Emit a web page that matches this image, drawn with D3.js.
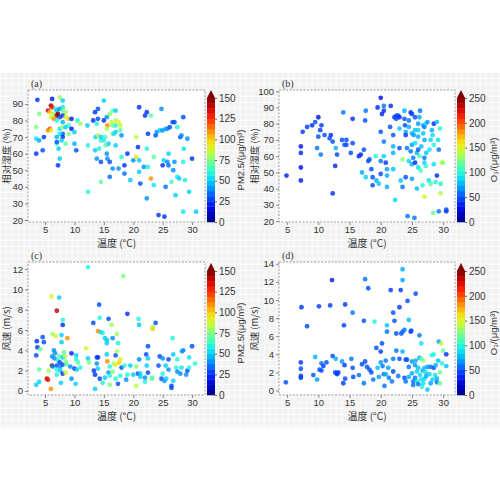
<!DOCTYPE html>
<html>
<head>
<meta charset="utf-8">
<script src="https://cdn.jsdelivr.net/npm/d3@7"></script>
<style>
  body { margin: 0; background: #fff; }
  svg text { font-family: "Liberation Sans", Arial, sans-serif; fill: #333; }
  .zh { font-family: "Noto Sans CJK SC", sans-serif; }
</style>
</head>
<body>
<div id="chart"></div>
<script>
// [temperature, y value, colour value]
var panelA = [
  [3.7,92.5,25],[6.2,93,20],[7.5,94,80],[8,92,50],[5.5,86,140],[6,89,145],[6.2,88,130],[5.8,85,100],[6.5,84,80],
  [6.8,87,60],[7,86,50],[7.5,87,40],[8,88,55],[8,86,70],[8.5,85,80],[7,83,140],[7.2,84,150],[6,82,90],[6.5,81,110],
  [7.5,82,30],[8,83,25],[8.5,82,90],[9,81,100],[9.5,81,20],[7,80,60],[8,79,45],[4,84,75],[3.5,76,75],[5.5,74,110],
  [5.8,75,120],[6,74,90],[7.5,75,55],[8,76,80],[8.5,76,50],[9,77,60],[9.5,75,20],[10,73,50],[11,78,80],[10.5,80,60],
  [9,72,75],[8,72,30],[7.5,72,55],[7,70,45],[8,70,25],[7.8,68,50],[7,66,70],[8.5,66,70],[7,67,30],[10,66,45],
  [3.5,69,55],[4,68,45],[4.8,70,25],[3.5,60,25],[4.6,62,30],[7.3,63,50],[7.5,57,50],[7.2,53,25],[10.3,62,30],
  [12.2,77,50],[12.3,65,60],[12.3,37,60],[13.2,80,25],[13.5,85,25],[14,87,30],[14,81,30],[13.8,78,60],[13.6,70,50],
  [14,71,80],[13.5,62,50],[13.8,57,40],[14.5,55,30],[14.2,63,60],[14.5,68,60],[15,92,50],[14.5,70,50],[15,80,25],
  [15.5,82,40],[15.6,77,110],[15.5,75,80],[15.2,70,65],[15,68,60],[15.3,65,70],[15.5,60,40],[15.6,57,40],[16,55,30],
  [15.8,66,50],[16.5,86,70],[17,86,50],[16,84,75],[16.3,79,85],[17,80,85],[16.5,77,75],[17,77,60],[17.5,79,90],
  [17.8,77,85],[16.5,72,75],[17,73,50],[17.8,74,70],[18,71,40],[16.7,72,55],[17,65,50],[16.5,51,40],[16,46,35],
  [14.5,43,70],[17.5,51,40],[18,58,60],[18.5,53,25],[18.5,48,35],[19,60,25],[19.5,44,50],[20,56,40],[20.5,58,95],
  [20.5,70,85],[20.8,64,25],[21,88,25],[21,56,50],[21,49,50],[21.2,42,30],[21.8,52,40],[22,83,25],[22.3,85,25],
  [22.5,72,25],[22.3,63,60],[22.5,52,60],[22.3,33,40],[23,83,70],[23,45,110],[23.5,41,55],[23.5,58,70],[23.8,71,30],
  [24,73,40],[24.5,74,50],[24.8,87,40],[25,74,40],[25,53,25],[25.5,75,45],[25.8,75,40],[25.2,56,50],[25.5,40,35],
  [25.8,55,40],[26,53,35],[26.2,76,30],[26,60,50],[26.5,43,65],[26.7,79,30],[27,79,30],[27,55,40],[26.8,50,40],
  [27.2,35,50],[27.5,76,60],[27.5,46,55],[27.8,45,50],[28,70,30],[28.2,71,40],[28.5,82,30],[28.6,63,55],[28.5,55,60],
  [28.8,44,60],[29.2,69,40],[29.5,37,50],[30,57,25],[24.3,23,25],[25.3,22,25],[28.5,25,55],[30.7,25,50]
];
var panelB = [
  [4.9,48,35],[7.2,66,35],[7.2,62,40],[7.2,53,30],[7.2,45,35],[7.5,75,45],[8.2,78,45],[9,79,40],[9.5,81,50],[10,84,30],
  [10,72,50],[9.8,65,60],[10.3,76,45],[10.5,79,45],[10.4,61,60],[11,73,50],[11.8,71,50],[12,73,40],[12.3,69,50],
  [12.7,54,40],[12.3,37,40],[12.8,65,75],[13,61,50],[13.8,70,50],[14,87,60],[14.2,67,50],[14.5,70,50],[14.5,67,50],
  [15.5,83,40],[15.5,68,50],[15.2,62,50],[16.5,60,40],[16.8,61,40],[17.3,64,50],[17.5,82,50],[17.6,88,60],[17,50,75],
  [17.6,47,85],[18,57,50],[18.2,58,50],[18.5,52,50],[18.7,47,50],[18.7,42,50],[19.2,60,100],[19.3,45,75],[19.7,43,80],
  [19.5,90,40],[20,96,30],[20,75,50],[20,57,60],[20,49,50],[20.2,86,40],[20.5,88,40],[20.5,91,60],[20.5,60,85],
  [20.5,69,60],[20.8,56,40],[21,52,70],[21,41,75],[21,48,75],[21.5,78,50],[21.6,91,40],[22,73,50],[22,66,75],
  [22,52,80],[22,62,75],[22.2,84,40],[22.5,85,50],[22.5,83,50],[22.8,85,50],[22.3,33,85],[23,84,40],[23,77,80],
  [23,65,50],[23.2,45,80],[23.5,58,130],[23.5,41,60],[23.8,88,75],[23.8,83,50],[23.9,79,50],[24,75,75],[24,73,40],
  [24.2,65,60],[24,47,50],[24.3,23,60],[24.5,82,60],[24.5,78,75],[24.5,57,85],[24.8,63,60],[24.8,87,40],[25,86,45],
  [25,74,75],[25,67,70],[25,55,75],[25,46,70],[25.2,59,60],[25.3,73,70],[25.5,76,80],[25.5,68,90],[25.5,84,50],
  [25.5,56,40],[25.8,62,75],[25.8,40,80],[25.4,22,60],[26,80,70],[26,76,85],[26,72,75],[26,64,50],[26,53,90],
  [26.2,84,75],[26.3,88,60],[26.2,60,110],[26.4,51,110],[26.5,66,80],[26.7,42,100],[26.8,79,75],[26.8,74,80],
  [27,78,60],[27,70,75],[27,56,85],[27,59,60],[27,35,150],[27.2,80,85],[27.2,54,100],[27.3,62,80],[27.5,81,70],
  [27.7,45,90],[27.8,64,90],[28,43,110],[28,70,85],[28.2,76,75],[28.5,80,40],[28.3,73,90],[28.5,67,100],[28.5,55,90],
  [28.4,25,120],[28.8,44,100],[29,81,80],[29,48,40],[29.2,70,90],[29.3,64,60],[29.5,77,100],[29.6,43,100],
  [29.6,37,140],[29.8,56,140],[30,56,130],[29.3,26,60],[30.5,26,40],[30.5,27,50]
];
var panelC = [
  [3.5,0.6,50],[3.5,3.5,30],[3.6,4.9,25],[3.7,4.3,25],[4,0.9,50],[4,2.1,70],[4.2,4.1,70],[4.6,5.3,30],[4.8,4.8,30],
  [5.3,1.2,140],[5.5,1.1,130],[5.6,2,80],[6,0.2,110],[6.1,9.3,90],[6.2,3.4,40],[6.2,2.5,150],[6.3,2.4,40],[6.3,5.6,80],
  [6.5,4,40],[6.6,3.2,40],[6.7,3.7,40],[6.8,5.4,90],[7,7.9,140],[7,2.5,30],[7,2.1,60],[7,1.6,60],[7.2,3,60],[7.4,9.2,50],
  [7.4,3.4,70],[7.5,2.8,30],[7.6,2.4,40],[7.6,2,50],[7.7,0.8,50],[7.8,5.5,50],[7.8,4.8,50],[8,6.5,25],[8,7,60],[8,3.3,50],
  [8,2.6,30],[8,1.7,25],[8.2,3.8,70],[8.4,3.4,80],[8.5,2.9,75],[8.5,1.8,90],[8.7,2.6,70],[8.8,5.2,110],[9.3,2.4,40],
  [9.5,3.7,20],[9.5,1.2,40],[10,2.2,25],[10.2,0.7,50],[10.3,3.1,60],[10.3,3.5,50],[10.4,2.1,50],[10.6,2.8,70],[11,2.3,60],
  [12,4.2,90],[12.3,12.2,60],[12.3,3.2,50],[12.5,2.8,75],[13.2,6.7,30],[13.3,2,25],[13.5,1.6,25],[13.8,3.3,30],
  [13.8,2.7,40],[13.5,0.2,50],[14,3.3,25],[14,2.2,50],[14,5.9,110],[14.2,8.5,30],[14.3,7.2,60],[14.5,5.8,50],[14.8,5.7,60],
  [14.3,1.2,30],[14.8,0.8,60],[15.2,5.2,50],[15.5,4.7,50],[15.5,3.6,50],[15.5,5,50],[15.6,2.9,110],[15.8,7.1,30],
  [15.8,1.8,40],[15.2,1.3,50],[16,2.4,60],[16,1.5,60],[16,0.6,75],[16.3,6.5,80],[16.5,5.2,40],[16.5,1.9,75],[16.7,2.7,80],
  [17,3.5,30],[17,2.6,90],[17.2,3.9,80],[17,1.2,60],[17.2,5.6,80],[17.4,0.7,30],[17.4,4.7,60],[17.6,2.8,100],[17.8,3.1,90],
  [17.8,1.5,60],[18,2.3,30],[18.3,11.3,75],[18.5,2.5,60],[18.8,1.1,40],[19,7.6,25],[19,1.6,60],[19.5,2.5,50],[20,1.6,50],
  [20.5,2.4,75],[20.5,0.5,85],[20.8,1.7,30],[20.9,7.1,60],[21,6.5,50],[21,3.1,40],[21.2,1.4,50],[21.2,1.7,50],[22,1.3,40],
  [22,0.9,60],[22.2,3.6,30],[22.3,2.5,50],[22.5,3.2,50],[22.5,1.8,30],[22.5,4.4,30],[23.2,1.3,70],[23.2,1.2,70],
  [23.3,6.3,80],[23.3,6.1,100],[23.8,6.7,30],[24.3,2.5,30],[24.5,3.4,30],[24.8,1.2,30],[25,3.2,40],[25,1.7,60],[25.3,1,40],
  [25.6,1.2,50],[25.5,2.5,50],[26,2.1,40],[26,3.1,30],[26.5,0.5,30],[26.5,0.3,30],[26.7,5.2,60],[26.8,1,50],[26.8,3.6,50],
  [27.3,2.3,60],[27.5,1.9,40],[27.5,3.1,60],[28,1.7,40],[28.2,2.3,55],[28.3,3.9,40],[28.5,4,40],[29,1.6,40],[29.2,2,30],
  [29.5,2.3,60],[29.5,3.3,55],[30,4.4,30],[30.5,2.7,60]
];
var panelD = [
  [4.8,0.9,50],[7.2,3.1,45],[7.2,2.4,50],[7.2,1.6,45],[7.2,1.4,45],[7.3,9.2,45],[8.2,7.1,50],[9.2,1.7,50],[9.5,3.7,75],
  [9.8,1.2,70],[10.1,9.3,45],[10.2,2.3,50],[10.5,2.2,50],[10.5,3,60],[10.8,2.7,45],[11.3,3.1,50],[11.9,9.4,45],
  [12.2,12.2,35],[12.3,3.8,50],[12.7,2,50],[12.8,3.5,75],[13,1.8,50],[13.2,2,50],[13,1.9,45],[13.8,3.2,70],[14,0.8,45],
  [14.1,7.2,45],[14.3,9.5,45],[14.3,1.3,50],[14.2,2.8,45],[15.3,3.5,60],[15.5,8.6,60],[15.5,2.5,50],[15.6,1.5,50],
  [16.5,1.7,60],[17,2.9,50],[17.3,7.7,50],[17.3,0.8,60],[17.5,12.3,60],[17.5,3.2,50],[17.8,2.6,50],[18,11.3,50],
  [18.2,2.3,50],[18.5,2,50],[18.8,1.2,60],[19,7.6,100],[19.3,4.7,50],[19.5,2.5,80],[19.7,1.5,70],[20,4.3,45],[20,3.1,70],
  [20.2,5.2,50],[20.3,2.7,60],[20.5,1.8,60],[20.6,0.5,60],[20.8,3.3,60],[20.8,1.8,75],[21,7.2,80],[21,6.5,60],[21.2,2.5,70],
  [21.3,1.4,60],[21.6,11.1,45],[21.8,1,60],[22,3.5,60],[22,2.1,50],[22,8.6,50],[22.2,7.7,50],[22.5,6.3,50],[22.5,4.4,60],
  [22.8,1.6,60],[23,9.2,45],[23,3.5,50],[23.2,11.1,45],[23.3,6.3,50],[23.5,13.4,75],[23.5,12.2,70],[23.5,6.5,60],
  [23.5,4.3,75],[23.8,6.7,60],[23.8,1.4,50],[24,3.4,50],[24,1,60],[24.2,3.4,50],[24.3,9.9,50],[24.5,7.8,80],[24.5,2.6,60],
  [24.5,1.5,75],[24.8,6.5,45],[24.9,6.6,50],[25,3.2,70],[25,1.9,75],[25.2,0.6,60],[25.2,1,60],[25.5,2.8,70],[25.5,1.4,60],
  [25.6,3.3,75],[25.6,10.7,50],[25.8,1,90],[25.8,2.1,85],[26,0.7,60],[26.2,6.1,60],[26,2.5,80],[26.2,3.6,75],[26.3,1.7,85],
  [26.5,5.2,90],[26.5,3.5,110],[26.5,1.2,90],[26.6,0.4,100],[26.7,2.2,75],[26.8,0.8,90],[26.8,3.3,130],[27,2.5,80],
  [27,1.3,85],[27.2,2,90],[27.3,1.6,75],[27.5,0.1,80],[27.5,2.6,70],[27.8,1.8,85],[28,0.8,70],[28,2.6,60],[28.2,3.9,100],
  [28.3,1.2,85],[28.5,4,100],[28.5,2.5,50],[28.7,1.7,90],[28.8,2.8,75],[29,1.3,75],[29,0.9,60],[29.2,3.3,80],[29.3,5.4,70],
  [29.5,2,120],[29.5,0.8,120],[29.7,5.2,140],[29.8,3,100],[30,4.4,120],[30.5,4,40],[30.5,2.7,80]
];

var xTicks = [5, 10, 15, 20, 25, 30];
var rhTicks = [20, 30, 40, 50, 60, 70, 80, 90];
var rhTicksB = [20, 30, 40, 50, 60, 70, 80, 90, 100];
var wsTicksC = [0, 2, 4, 6, 8, 10, 12];
var wsTicksD = [0, 2, 4, 6, 8, 10, 12, 14];
var pmTicks = [0, 25, 50, 75, 100, 125, 150];
var o3Ticks = [0, 50, 100, 150, 200, 250];
var jetColors = ["#00007f", "#0000ff", "#007fff", "#00ffff", "#7fff7f", "#ffff00", "#ff7f00", "#ff0000", "#7f0000"];

var svg = d3.select("#chart").append("svg").attr("width", 500).attr("height", 500);

// light grid backdrop
var defs = svg.append("defs");
var pat = defs.append("pattern").attr("id", "bg").attr("width", 6).attr("height", 6).attr("patternUnits", "userSpaceOnUse");
pat.append("rect").attr("width", 6).attr("height", 6).attr("fill", "#f3f3f3");
pat.append("path").attr("d", "M0,0.5H6M0.5,0V6").attr("stroke", "#fafafa").attr("stroke-width", 1);
svg.append("rect").attr("x", 0).attr("y", 72).attr("width", 500).attr("height", 356).attr("fill", "url(#bg)");

var jet = d3.interpolateRgbBasis(jetColors);

var panels = [
  {tag: "(a)", data: panelA, x0: 28, x1: 205, y0: 90, y1: 222, xd: [2.1, 32.2], yd: [18.8, 98.4], yt: rhTicks,
   ylab: "相对湿度 (%)", cmax: 150, ct: pmTicks, cb: [207, 98, 222], clab: "PM2.5/(μg/m³)", clx: 241, ylx: 6.5},
  {tag: "(b)", data: panelB, x0: 279, x1: 455, y0: 90, y1: 222, xd: [3.7, 31.9], yd: [19.4, 100.8], yt: rhTicksB,
   ylab: "相对湿度 (%)", cmax: 250, ct: o3Ticks, cb: [457, 98, 222], clab: "O₃/(μg/m³)", clx: 494, ylx: 255},
  {tag: "(c)", data: panelC, x0: 28, x1: 205, y0: 262, y1: 395, xd: [2.1, 32.2], yd: [-0.4, 12.7], yt: wsTicksC,
   ylab: "风速 (m/s)", cmax: 150, ct: pmTicks, cb: [207, 271, 395], clab: "PM2.5/(μg/m³)", clx: 241, ylx: 6.5},
  {tag: "(d)", data: panelD, x0: 279, x1: 455, y0: 262, y1: 395, xd: [3.7, 31.9], yd: [-0.5, 14.2], yt: wsTicksD,
   ylab: "风速 (m/s)", cmax: 250, ct: o3Ticks, cb: [457, 271, 395], clab: "O₃/(μg/m³)", clx: 494, ylx: 255}
];

panels.forEach(function(p) {
  var x = d3.scaleLinear().domain(p.xd).range([p.x0, p.x1]);
  var y = d3.scaleLinear().domain(p.yd).range([p.y1, p.y0]);
  var c = d3.scaleSequential(jet).domain([0, p.cmax]);
  var g = svg.append("g");

  g.append("rect").attr("x", p.x0).attr("y", p.y0).attr("width", p.x1 - p.x0).attr("height", p.y1 - p.y0)
    .attr("fill", "#fff").attr("stroke", "#9a9a9a").attr("stroke-width", 1).attr("stroke-dasharray", "2,1.5");

  var xa = g.append("g").attr("transform", "translate(0," + p.y1 + ")")
    .call(d3.axisBottom(x).tickValues(xTicks).tickSize(3).tickPadding(1));
  var ya = g.append("g").attr("transform", "translate(" + p.x0 + ",0)")
    .call(d3.axisLeft(y).tickValues(p.yt).tickSize(3).tickPadding(2));
  [xa, ya].forEach(function(a) {
    a.select(".domain").remove();
    a.selectAll("line").attr("stroke", "#888");
    a.selectAll("text").style("font-size", "9.5px").attr("fill", "#333");
  });

  g.append("g").selectAll("circle").data(p.data).enter().append("circle")
    .attr("cx", function(d) { return x(d[0]); })
    .attr("cy", function(d) { return y(d[1]); })
    .attr("r", 2.4)
    .attr("fill", function(d) { return c(d[2]); })
    .attr("opacity", 0.82);

  g.append("text").attr("x", p.x0 + 3).attr("y", p.y0 - 3).text(p.tag)
    .style("font-family", "Liberation Serif, serif").style("font-size", "10px");
  g.append("text").attr("class", "zh").attr("x", (p.x0 + p.x1) / 2).attr("y", p.y1 + 25)
    .attr("text-anchor", "middle").style("font-size", "10px").text("温度 (°C)");
  g.append("text").attr("class", "zh")
    .attr("transform", "translate(" + p.ylx + "," + ((p.y0 + p.y1) / 2) + ") rotate(-90)")
    .attr("text-anchor", "middle").attr("dy", "0.35em").style("font-size", "9.5px").text(p.ylab);

  // colour bar
  var cbx = p.cb[0], cbw = 8;
  var cy = d3.scaleLinear().domain([0, p.cmax]).range([p.cb[2], p.cb[1]]);
  var steps = d3.range(0, 24).map(function(i) { return i * p.cmax / 24; });
  g.append("g").selectAll("rect").data(steps).enter().append("rect")
    .attr("x", cbx).attr("width", cbw)
    .attr("y", function(d) { return cy(d + p.cmax / 24); })
    .attr("height", function(d) { return cy(d) - cy(d + p.cmax / 24) + 0.3; })
    .attr("fill", function(d) { return c(d + p.cmax / 48); });
  g.append("path")
    .attr("d", "M" + cbx + "," + cy(p.cmax) + "L" + (cbx + cbw / 2) + "," + (cy(p.cmax) - 8) + "L" + (cbx + cbw) + "," + cy(p.cmax) + "Z")
    .attr("fill", "#7f0000");
  var ca = g.append("g").attr("transform", "translate(" + (cbx + cbw) + ",0)")
    .call(d3.axisRight(cy).tickValues(p.ct).tickSize(2).tickPadding(2));
  ca.select(".domain").remove();
  ca.selectAll("line").attr("stroke", "#666");
  ca.selectAll("text").style("font-size", "10px").attr("fill", "#333");
  g.append("text")
    .attr("transform", "translate(" + p.clx + "," + ((p.cb[1] + p.cb[2]) / 2) + ") rotate(-90)")
    .attr("text-anchor", "middle").attr("dy", "0.35em").style("font-size", "9.5px").text(p.clab);
});
</script>
</body>
</html>
